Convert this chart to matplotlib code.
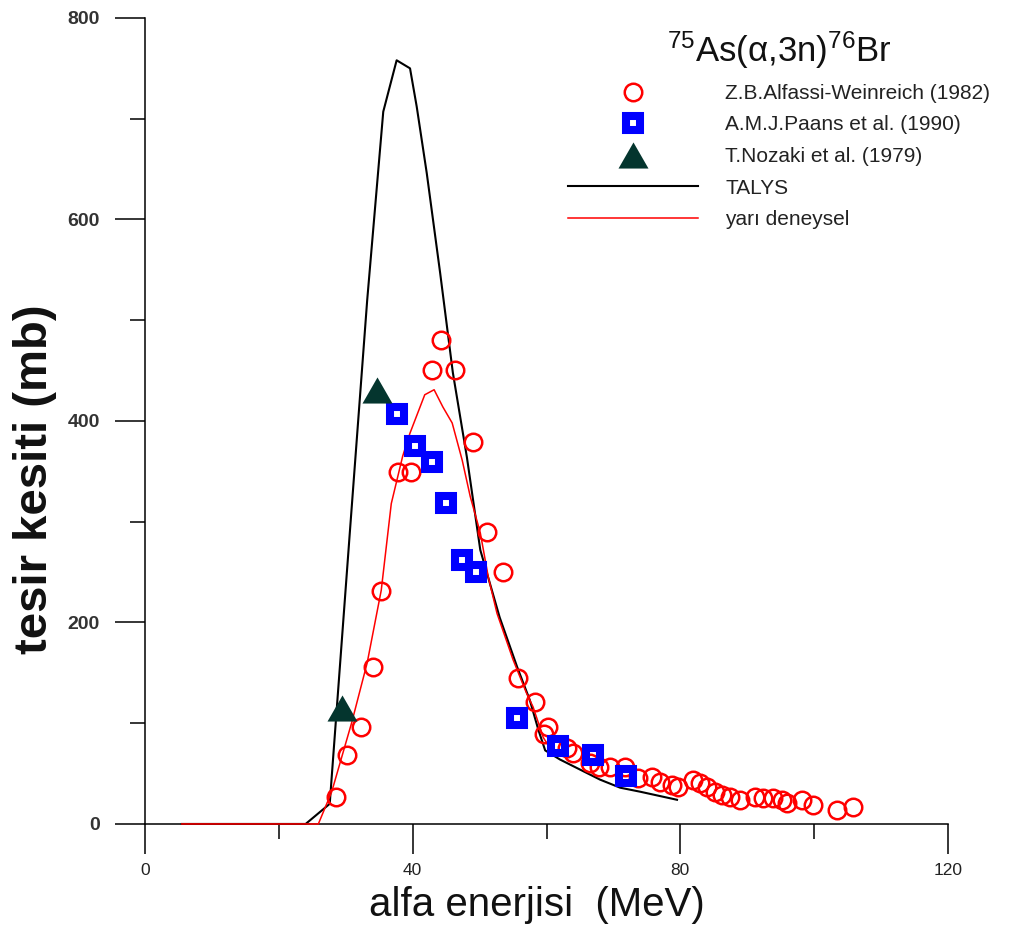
import matplotlib
matplotlib.use("Agg")

import matplotlib.pyplot as plt
from matplotlib.ticker import MultipleLocator

plt.rcParams['font.family'] = ['Liberation Sans', 'DejaVu Sans']
plt.rcParams['mathtext.fontset'] = 'custom'
plt.rcParams['mathtext.rm'] = 'Liberation Sans'
plt.rcParams['mathtext.it'] = 'Liberation Sans:italic'
plt.rcParams['mathtext.bf'] = 'Liberation Sans:bold'

# TALYS calculation
talys_e = [5.5, 24.0, 27.6, 30.6, 33.2, 35.6, 37.6, 39.6, 40.6, 42.1, 44.1, 46.0,
           48.1, 50.1, 53.0, 55.6, 57.5, 58.8, 59.8, 62.0, 65.0, 68.0, 71.0, 74.0, 79.5]
talys_sigma = [0, 0, 20, 289, 520, 707, 758, 750, 712, 646, 547, 448,
               364, 272, 205, 156, 123, 93, 73, 64, 54, 44, 36, 32, 24]

# semi-empirical systematics
semi_e = [5.5, 25.9, 27.9, 30.9, 33.2, 35.3, 36.8, 38.5, 39.6, 41.8, 43.2, 44.5,
          45.9, 47.4, 48.6, 50.1, 51.3, 52.6, 55.0, 57.0, 58.0, 59.5, 61.0]
semi_sigma = [0, 0, 32, 101, 160, 232, 318, 365, 388, 426, 431, 414,
              398, 361, 325, 289, 245, 209, 163, 130, 116, 86, 70]

# Z.B.Alfassi-Weinreich (1982)
alfassi_e = [28.5, 30.2, 32.2, 34.1, 35.3, 37.8, 39.8, 42.9, 44.3, 46.3, 49.0, 51.1,
             53.5, 55.7, 58.3, 60.2, 59.6, 63.1, 64.0, 66.5, 67.8, 69.5, 71.7, 73.7,
             75.8, 77.0, 78.8, 79.7, 81.9, 82.9, 84.0, 85.2, 86.2, 87.4, 88.9, 91.2,
             92.4, 93.9, 95.2, 95.9, 98.2, 99.8, 103.4, 105.8]
alfassi_sigma = [27, 68, 96, 156, 231, 349, 349, 451, 480, 451, 379, 290,
                 250, 145, 121, 96, 89, 75, 70, 61, 57, 57, 57, 46,
                 47, 42, 39, 37, 44, 41, 37, 32, 29, 27, 24, 27,
                 26, 26, 24, 21, 24, 19, 14, 17]

# A.M.J.Paans et al. (1990)
paans_e = [37.7, 40.3, 42.9, 45.0, 47.4, 49.5, 55.6, 61.7, 66.9, 71.9]
paans_sigma = [407, 375, 359, 319, 262, 250, 105, 77, 68, 48]

# T.Nozaki et al. (1979)
nozaki_e = [29.4, 34.7]
nozaki_sigma = [115, 431]

x_ticks = [0, 40, 80, 120]
y_ticks = [0, 200, 400, 600, 800]

fig = plt.figure(figsize=(10.15, 9.36), dpi=100)
ax = fig.add_axes([0.1429, 0.1197, 0.7911, 0.8611])

# lines run along the zero line, so don't clip them at the axes edge
talys, = ax.plot(talys_e, talys_sigma, color='black', lw=1.5, zorder=3, clip_on=False)
semi, = ax.plot(semi_e, semi_sigma, color='#ff0000', lw=1.1, zorder=3.5, clip_on=False)
alfassi, = ax.plot(alfassi_e, alfassi_sigma, ls='none', marker='o', ms=12.6,
                   mfc='none', mec='#ff0000', mew=1.8, zorder=4)
paans, = ax.plot(paans_e, paans_sigma, ls='none', marker='s', ms=10.2,
                 mfc='none', mec='#0000ff', mew=5.8, zorder=5)
tri = [(0, 0.87), (-1, -0.87), (1, -0.87)]
nozaki, = ax.plot(nozaki_e, nozaki_sigma, ls='none', marker=tri, ms=21.6,
                  color='#04352e', mew=0, zorder=6)

ax.set_xlim(0, 120)
ax.set_ylim(0, 800)
for side in ('top', 'right'):
    ax.spines[side].set_visible(False)
for side in ('left', 'bottom'):
    ax.spines[side].set_linewidth(1.1)

ax.set_xticks(x_ticks, labels=[str(v) for v in x_ticks], fontsize=12.5, color='#222222')
ax.set_yticks(y_ticks, labels=[str(v) for v in y_ticks], fontsize=14,
              fontweight='bold', color='#333333')
ax.xaxis.set_minor_locator(MultipleLocator(20))
ax.yaxis.set_minor_locator(MultipleLocator(100))
ax.tick_params(which='major', direction='out', length=21.6, width=1.1)
ax.tick_params(which='minor', direction='out', length=10.8, width=1.1)
ax.tick_params(axis='x', which='major', pad=6.5)
ax.tick_params(axis='y', which='major', pad=10.8)

ax.set_xlabel('alfa enerjisi  (MeV)', fontsize=29, color='#111111')
ax.xaxis.set_label_coords(0.488, -0.077)
ax.set_ylabel('tesir kesiti (mb)', fontsize=34, fontweight='bold', color='#111111')
ax.yaxis.set_label_coords(-0.1096, 0.428)

leg = ax.legend([alfassi, paans, nozaki, talys, semi],
                ['Z.B.Alfassi-Weinreich (1982)', 'A.M.J.Paans et al. (1990)',
                 'T.Nozaki et al. (1979)', 'TALYS', 'yarı deneysel'],
                title='$^{75}$As(α,3n)$^{76}$Br',
                loc='upper left', bbox_to_anchor=(568 / 1015, 1 - 30 / 936),
                bbox_transform=fig.transFigure, frameon=False, fontsize=15,
                title_fontsize=25, numpoints=1, handlelength=6.25,
                handletextpad=1.3, labelspacing=0.6, borderpad=0,
                borderaxespad=0)
for t in leg.get_texts():
    t.set_color('#222222')
leg.get_title().set_color('#111111')

fig.savefig('out.png', dpi=100)
